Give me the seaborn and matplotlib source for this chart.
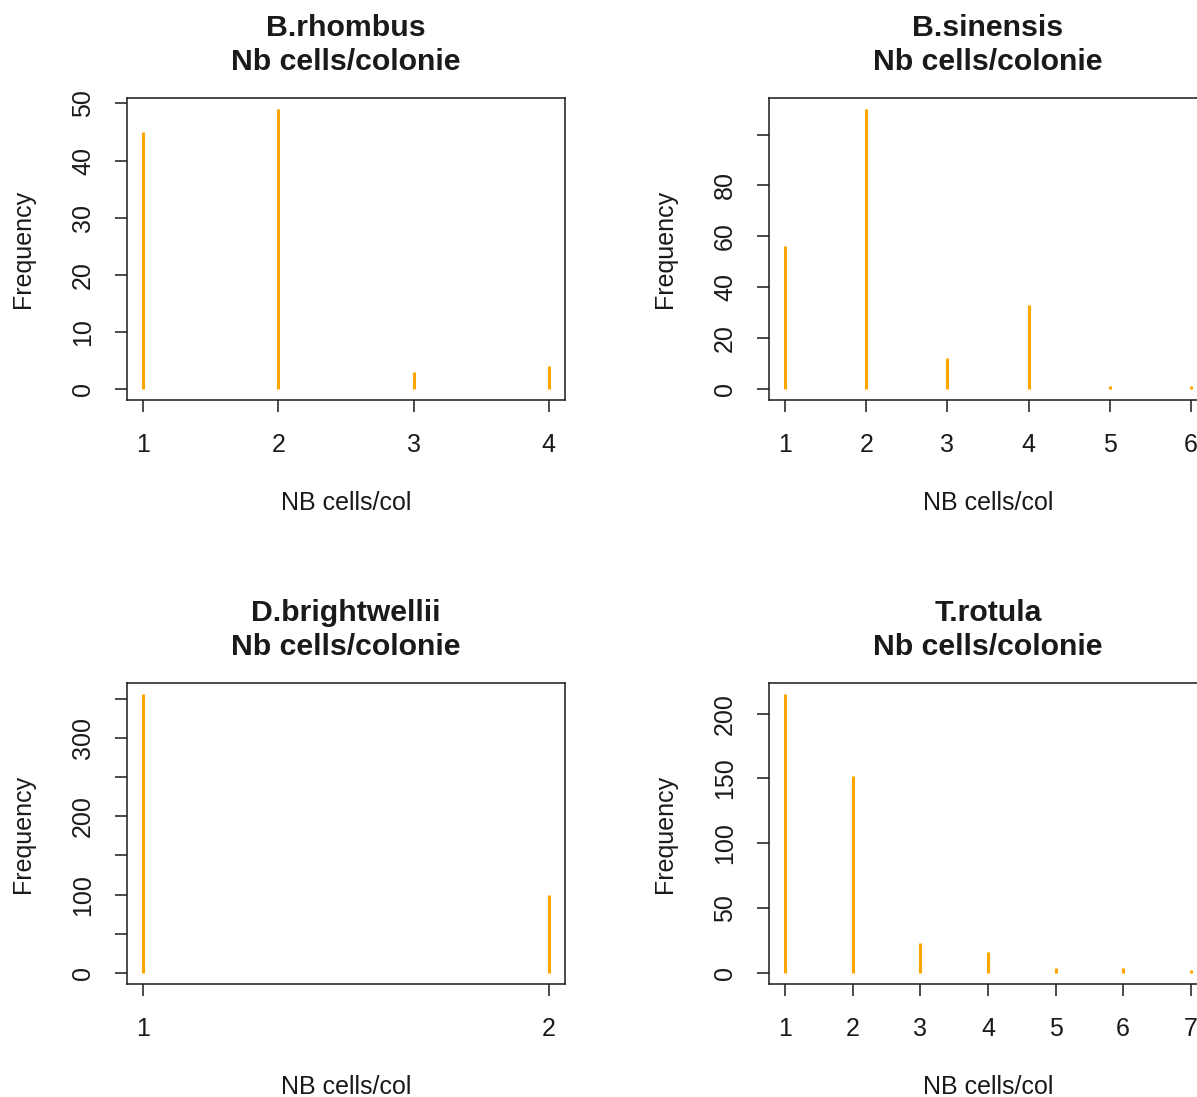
import matplotlib
matplotlib.use("Agg")
import matplotlib.pyplot as plt
import seaborn as sns
import pandas as pd

sns.set_theme(style="white")
plt.rcParams["font.family"] = ["Liberation Sans", "DejaVu Sans"]

# Colony size counts (number of cells per colony) for each species
species = ["B.rhombus", "B.sinensis", "D.brightwellii", "T.rotula"]

rhombus_cells = [1, 2, 3, 4]
rhombus_freq = [45, 49, 3, 4]

sinensis_cells = [1, 2, 3, 4, 5, 6]
sinensis_freq = [56, 110, 12, 33, 1, 1]

brightwellii_cells = [1, 2]
brightwellii_freq = [356, 99]

rotula_cells = [1, 2, 3, 4, 5, 6, 7]
rotula_freq = [215, 152, 23, 16, 4, 4, 2]

# y-axis tick positions and which of them carry a label
rhombus_yticks = [0, 10, 20, 30, 40, 50]
rhombus_ylabels = ["0", "10", "20", "30", "40", "50"]
sinensis_yticks = [0, 20, 40, 60, 80, 100]
sinensis_ylabels = ["0", "20", "40", "60", "80", ""]
brightwellii_yticks = [0, 50, 100, 150, 200, 250, 300, 350]
brightwellii_ylabels = ["0", "", "100", "", "200", "", "300", ""]
rotula_yticks = [0, 50, 100, 150, 200]
rotula_ylabels = ["0", "50", "100", "150", "200"]

panels = [
    (species[0], rhombus_cells, rhombus_freq, rhombus_yticks, rhombus_ylabels),
    (species[1], sinensis_cells, sinensis_freq, sinensis_yticks, sinensis_ylabels),
    (species[2], brightwellii_cells, brightwellii_freq, brightwellii_yticks, brightwellii_ylabels),
    (species[3], rotula_cells, rotula_freq, rotula_yticks, rotula_ylabels),
]

W, H = 1197, 1097
fig = plt.figure(figsize=(W / 100, H / 100), dpi=100)

# panel boxes in pixels: (left, top, right, bottom)
boxes = [
    (127, 98, 565, 400),
    (769, 98, 1207, 400),
    (127, 683, 565, 984),
    (769, 683, 1207, 984),
]

ink = "#1a1a1a"
for (name, cells, freq, yt, yl), (l, t, r, b) in zip(panels, boxes):
    ax = fig.add_axes([l / W, 1 - b / H, (r - l) / W, (b - t) / H])
    df = pd.DataFrame({"cells": cells, "freq": freq})
    ax.vlines(df["cells"], 0, df["freq"], color="#FFA500", linewidth=2.2)

    xr = max(cells) - min(cells)
    ax.set_xlim(min(cells) - 0.04 * xr, max(cells) + 0.04 * xr)
    ymax = max(freq)
    ax.set_ylim(-0.04 * ymax, 1.04 * ymax)

    ax.set_xticks(cells)
    ax.set_xticklabels([str(c) for c in cells])
    ax.set_yticks(yt)
    ax.set_yticklabels(yl, rotation=90, va="center")

    ax.tick_params(axis="both", which="both", direction="out", length=8.6,
                   width=1.1, color=ink, labelcolor=ink, labelsize=18,
                   left=True, bottom=True)
    ax.tick_params(axis="x", pad=15)
    ax.tick_params(axis="y", pad=14.5)

    for s in ax.spines.values():
        s.set_visible(True)
        s.set_color(ink)
        s.set_linewidth(1.1)

    ax.set_xlabel("NB cells/col", fontsize=18, color=ink, labelpad=24.5)
    ax.set_ylabel("Frequency", fontsize=18, color=ink, labelpad=26)
    ax.set_title(f"{name}\nNb cells/colonie", fontsize=21.8, fontweight="bold",
                 color=ink, pad=20, linespacing=1.3)
    ax.grid(False)
    ax.set_facecolor("white")

fig.savefig("out.png", dpi=100, facecolor="white")
